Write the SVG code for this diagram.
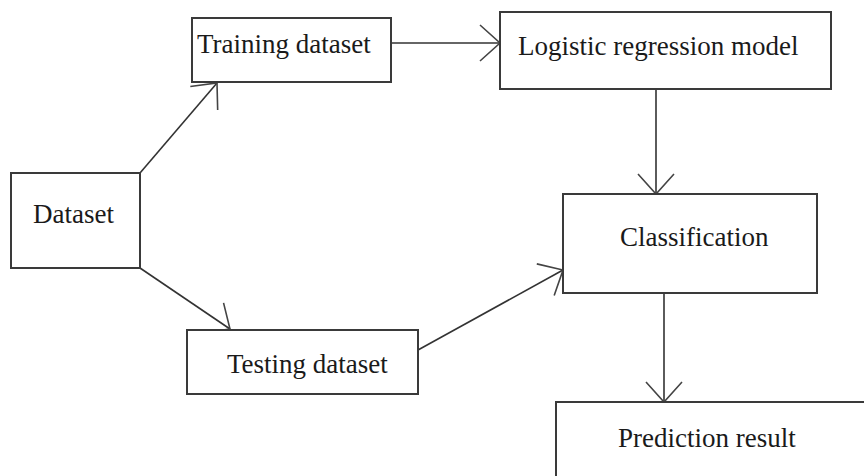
<svg xmlns="http://www.w3.org/2000/svg" width="864" height="476" viewBox="0 0 864 476">
<defs>
<style>
.box{fill:#fff;stroke:#3a3a3a;stroke-width:2}
.lbl{font-family:"Liberation Serif","Times New Roman",serif;font-size:27px;fill:#1a1a1a}
.edge{stroke:#333;stroke-width:1.6;fill:none;marker-end:url(#arr)}
</style>
<marker id="arr" markerUnits="userSpaceOnUse" viewBox="-22 -22 24 44" markerWidth="24" markerHeight="44" refX="0" refY="0" orient="auto">
<path d="M-20,-18 L0,0 L-20,18" fill="none" stroke="#444" stroke-width="1.6"/>
</marker>
</defs>
<rect width="864" height="476" fill="#fff"/>
<g id="connectors">
<line class="edge" x1="140" y1="173" x2="217" y2="83"/>
<line class="edge" x1="140" y1="268" x2="230" y2="329"/>
<line class="edge" x1="391" y1="43" x2="500" y2="43"/>
<line class="edge" x1="656" y1="89" x2="656" y2="194"/>
<line class="edge" x1="418" y1="350" x2="563" y2="270"/>
<line class="edge" x1="664" y1="293" x2="664" y2="402"/>
</g>
<g id="dataset">
<rect class="box" x="11" y="173" width="129" height="95"/>
<text class="lbl" x="33" y="223">Dataset</text>
</g>
<g id="training">
<rect class="box" x="192" y="18" width="199" height="64"/>
<text class="lbl" x="197" y="53">Training dataset</text>
</g>
<g id="testing">
<rect class="box" x="187" y="330" width="231" height="64"/>
<text class="lbl" x="227" y="373">Testing dataset</text>
</g>
<g id="model">
<rect class="box" x="500" y="12" width="331" height="77"/>
<text class="lbl" x="518" y="55">Logistic regression model</text>
</g>
<g id="classification">
<rect class="box" x="563" y="194" width="254" height="99"/>
<text class="lbl" x="620" y="246">Classification</text>
</g>
<g id="prediction">
<rect class="box" x="556" y="402" width="330" height="100"/>
<text class="lbl" x="618" y="447">Prediction result</text>
</g>
</svg>
